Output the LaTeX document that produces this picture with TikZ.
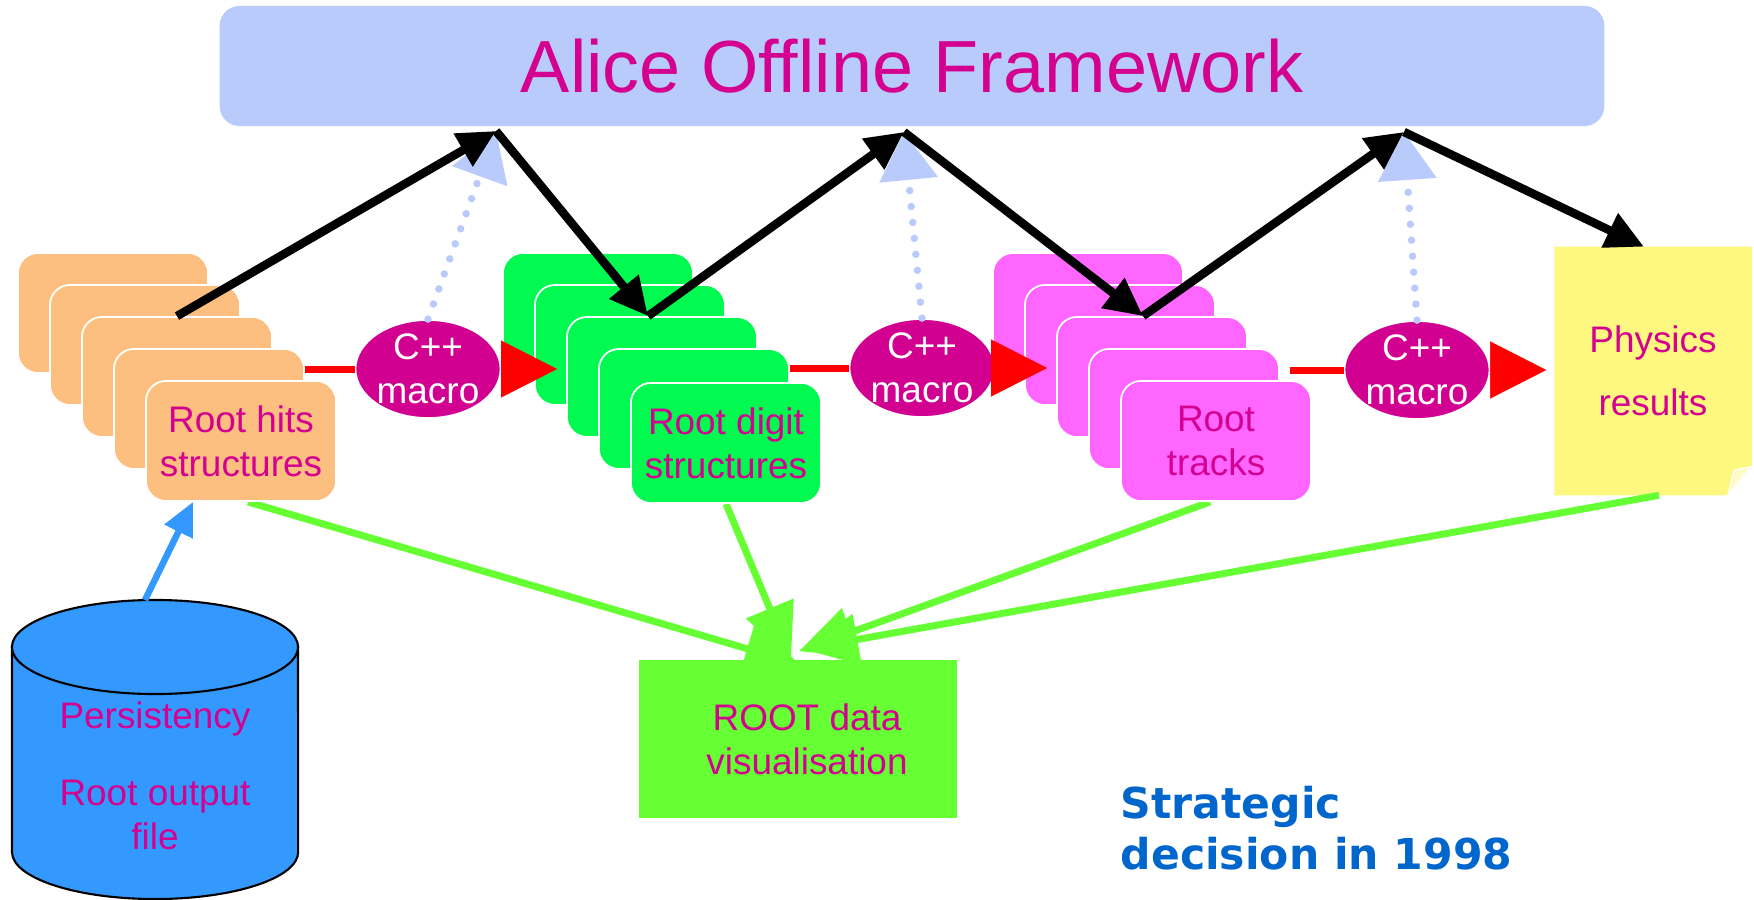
\documentclass[tikz,border=0pt]{standalone}
\usepackage{fontspec}
\setmainfont{Liberation Sans}
\newfontfamily\decisionfont{DejaVu Sans}
\usetikzlibrary{arrows.meta,shapes.geometric,backgrounds}
\definecolor{titleblue}{HTML}{B9CBFB}
\definecolor{magtext}{HTML}{D4008F}
\definecolor{hitsfill}{HTML}{FDBF80}
\definecolor{digitfill}{HTML}{00FA50}
\definecolor{trackfill}{HTML}{FF66FF}
\definecolor{macrofill}{HTML}{D10090}
\definecolor{physfill}{HTML}{FFF880}
\definecolor{physfold}{HTML}{FFFBC8}
\definecolor{storefill}{HTML}{3399FF}
\definecolor{visgreen}{HTML}{66FF33}
\definecolor{decisionblue}{HTML}{0066CC}
\begin{document}
\begin{tikzpicture}[x=.01cm,y=-.01cm,font=\fontsize{10.5}{12.6}\selectfont,
  titlebox/.style={rectangle,rounded corners=.2cm,fill=titleblue,minimum width=13.84cm,minimum height=1.2cm,text=magtext,font=\fontsize{21}{25}\selectfont},
  card/.style={rectangle,rounded corners=.2cm,minimum width=1.9cm,minimum height=1.2cm,draw=white,line width=.5pt,inner sep=0pt,text=magtext,align=center},
  macro/.style={ellipse,fill=macrofill,draw=white,line width=.5pt,minimum width=1.45cm,minimum height=.98cm,inner xsep=0pt,inner ysep=-.05cm,text=white,align=center},
  physnote/.style={rectangle,minimum width=1.96cm,minimum height=2.47cm,text=magtext,align=center},
  visbox/.style={rectangle,fill=visgreen,minimum width=3.18cm,minimum height=1.58cm,text=magtext,align=center},
  storebody/.style={fill=storefill,draw=black,line width=.6pt},
  storetext/.style={text=magtext,align=center},
  decision/.style={anchor=north west,inner sep=0pt,align=left,text=decisionblue,font=\decisionfont\bfseries\fontsize{12.1}{14.5}\selectfont},
  redline/.style={draw=red,line width=.07cm},
  redtip/.style={draw=red,line width=.1pt,-{Triangle[length=.56cm,width=.57cm]}},
  climb/.style={draw=black,line width=.085cm,-{Triangle[length=.38cm,width=.36cm]}},
  dotup/.style={draw=titleblue,line width=.075cm,dash pattern=on 0pt off .16cm,line cap=round,-{Triangle[length=.48cm,width=.57cm]}},
  greenarrow/.style={draw=visgreen,line width=.07cm,-{Triangle[length=.55cm,width=.5cm]}},
  bluearrow/.style={draw=storefill,line width=.065cm,-{Triangle[length=.33cm,width=.3cm]}}]
  \useasboundingbox (0,0) rectangle (1754,900);
  \node[titlebox] (title) at (912,66) {Alice Offline Framework};
  \coordinate (up1) at (496,131);
  \coordinate (up2) at (904,132);
  \coordinate (up3) at (1404,132);
  \coordinate (storetop) at (145,600);
  \foreach \k in {0,...,3}{
    \node[card,fill=hitsfill] (hits\k) at ({113+32*\k},{313+32*\k}) {};
    \node[card,fill=digitfill] (digit\k) at ({598+32*\k},{313+32*\k}) {};
    \node[card,fill=trackfill] (tracks\k) at ({1088+32*\k},{313+32*\k}) {};
  }
  \node[card,fill=hitsfill] (hits4) at (241,441) {Root hits\\structures};
  \node[card,fill=digitfill] (digit4) at (726,443) {Root digit\\structures};
  \node[card,fill=trackfill] (tracks4) at (1216,441) {Root\\tracks};
  \node[macro] (m1) at (428,369) {C++\\macro};
  \node[macro] (m2) at (922,368) {C++\\macro};
  \node[macro] (m3) at (1417,370) {C++\\macro};
  \node[physnote] (phys) at (1653,371) {Physics\\[.19cm]results};
  \begin{scope}[on background layer]
    \fill[physfill] (phys.north west) -- (phys.north east) -- ([yshift=.29cm]phys.south east)
      -- ([xshift=-.24cm]phys.south east) -- (phys.south west) -- cycle;
    \filldraw[fill=physfold,draw=white,line width=.3pt] ([yshift=.29cm]phys.south east)
      -- ([xshift=-.24cm]phys.south east) -- ([xshift=-.18cm,yshift=.25cm]phys.south east) -- cycle;
  \end{scope}
  \draw[redline] (hits3.east |- m1) -- (m1.west);
  \draw[redline] (digit3.east |- m2) -- (m2.west);
  \draw[redline,shorten <=.1cm] (tracks3.east |- m3) -- (m3.west);
  \draw[redtip,shorten >=.09cm] (m1.east) -- (digit2.west |- m1.east);
  \draw[redtip,shorten >=.09cm] (m2.east) -- (tracks2.west |- m2.east);
  \draw[redtip,shorten >=.08cm] (m3.east) -- (phys.west |- m3.east);
  \draw[dotup] (m1.north) -- (up1);
  \draw[dotup] (m2.north) -- (up2);
  \draw[dotup] (m3.north) -- (up3);
  \filldraw[storebody] (12,647) -- (12,852) arc[start angle=180,end angle=360,x radius=1.43cm,y radius=.47cm] -- (298,647) -- cycle;
  \filldraw[storebody] (155,647) ellipse[x radius=1.43cm,y radius=.47cm];
  \node[storetext] (store) at (155,776) {Persistency\\[.32cm]Root output\\file};
  \draw[bluearrow] (storetop) -- ([xshift=-.48cm]hits4.south);
  \node[visbox] (vis) at (798,739) {\hspace{.18cm}ROOT data\\\hspace{.18cm}visualisation};
  \begin{scope}[on background layer]
    \draw[greenarrow] ([xshift=.07cm]hits4.south) -- ([xshift=.02cm,yshift=-.05cm]vis.north);
    \draw[greenarrow] (digit4.south) -- ([xshift=-.07cm]vis.north);
    \draw[greenarrow] ([xshift=-.06cm]tracks4.south) -- ([xshift=.01cm,yshift=.08cm]vis.north);
    \draw[greenarrow] ([xshift=.06cm]phys.south) -- ([xshift=.05cm,yshift=.1cm]vis.north);
  \end{scope}
  \draw[climb] (hits2.north) -- (up1);
  \draw[climb] (up1) -- ([xshift=-.14cm]digit2.north);
  \draw[climb] ([xshift=-.14cm]digit2.north) -- (up2);
  \draw[climb] (up2) -- ([xshift=-.09cm]tracks2.north);
  \draw[climb] ([xshift=-.09cm]tracks2.north) -- (up3);
  \draw[climb] (up3) -- ([xshift=-.09cm]phys.north);
  \node[decision] (dec) at (1120,785) {Strategic\\decision in 1998};
\end{tikzpicture}
\end{document}
